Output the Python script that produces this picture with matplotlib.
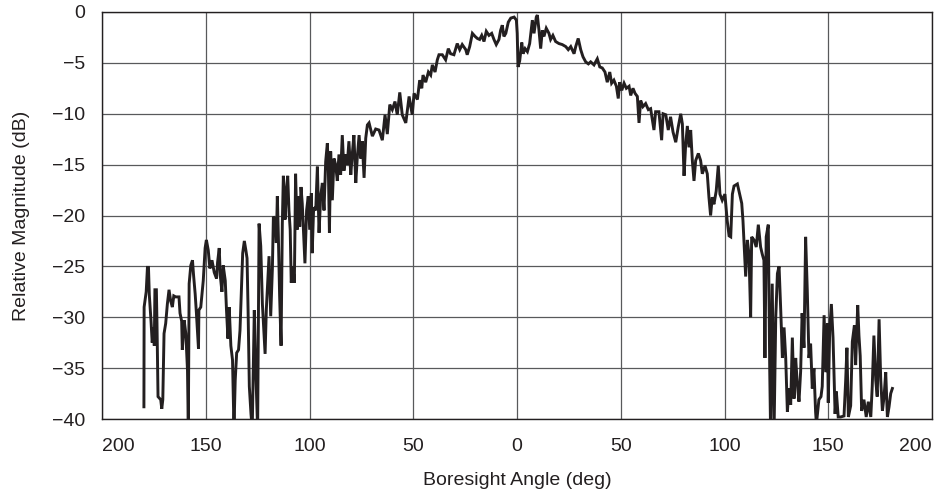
import matplotlib
matplotlib.use("Agg")
import matplotlib.pyplot as plt

plt.rcParams['font.family'] = ['Liberation Sans', 'DejaVu Sans']

# measured antenna pattern, boresight angle (deg) vs relative magnitude (dB)
angle = [
    -179.8, -179.7, -178.7, -178.1, -177.6, -177.2, -176.4, -175.8, -175.1, -174.8,
    -174.5, -173.8, -173.5, -173.0, -171.7, -171.2, -170.7, -170.1, -169.3, -168.5,
    -167.7, -166.9, -166.1, -165.4, -164.5, -162.9, -162.4, -161.6, -161.3, -160.4,
    -159.6, -158.8, -158.4, -158.0, -157.2, -156.4, -155.9, -155.1, -154.5, -153.5,
    -153.3, -152.4, -151.2, -150.3, -149.7, -148.8, -148.0, -147.0, -145.9, -144.8,
    -144.3, -143.5, -143.0, -142.2, -141.6, -140.6, -140.0, -139.3, -138.7, -137.9,
    -137.1, -136.4, -135.8, -135.1, -134.2, -133.5, -132.9, -132.2, -131.4, -130.6,
    -130.1, -129.6, -129.0, -128.2, -127.6, -126.6, -125.8, -125.0,
    -124.3, -123.5, -122.7, -121.4, -120.8, -120.3, -119.5, -118.7, -117.9, -117.4,
    -116.6, -116.0, -115.5, -115.0, -114.4, -113.7, -113.1, -112.6, -111.8, -111.0,
    -110.5, -109.9, -109.3, -108.8, -108.0, -107.3, -106.7, -106.0, -105.4, -104.7,
    -104.1, -103.5, -102.8, -102.2, -101.4, -100.6, -99.9, -99.1, -98.7, -98.0,
    -97.0, -96.2, -95.4, -94.6, -93.8, -93.0, -92.2, -91.4, -90.9, -90.4,
    -89.8, -89.0, -88.2, -87.4, -86.6, -85.8, -85.0, -84.2, -83.4, -82.6,
    -81.8, -81.0, -80.1, -79.4, -78.6, -77.7, -77.0, -76.1, -75.3, -74.6,
    -73.7, -72.9, -72.1,
    -71.3, -69.7, -68.1, -66.5, -64.9, -63.6, -62.5, -61.3, -60.1, -58.8,
    -57.7, -56.5, -55.3,
    -53.6, -52.0, -50.5, -49.6, -48.0, -46.9, -45.9, -45.3, -44.0, -42.7,
    -41.6, -40.8, -39.5, -38.4, -37.6, -36.0, -34.4, -33.1, -32.0, -30.4,
    -28.8, -27.6, -26.4, -24.7, -24.0, -22.8, -21.5, -20.2, -19.1, -18.0,
    -17.0, -15.9, -14.8, -13.5, -12.2, -11.1, -10.0, -8.7, -7.9, -7.1,
    -6.3, -5.4, -4.2, -3.0, -1.4, -0.3, 0.1, 0.5, 1.3, 2.3,
    2.9, 3.9, 5.0, 6.1,
    7.4, 8.2, 9.3, 9.8, 10.6, 11.4, 12.2, 13.0, 14.1, 15.4,
    16.2, 17.3, 18.6, 20.2, 21.8, 23.5, 24.7, 25.9, 27.5, 28.3,
    29.5, 30.7, 31.8, 33.1, 34.4, 35.5, 37.1, 38.7, 39.9, 41.1,
    42.4, 43.5, 44.7, 45.6, 46.7, 47.9, 48.8, 49.5, 50.5, 51.6,
    52.7, 54.0, 54.8, 55.9, 56.9, 58.0, 58.8, 59.6, 60.7, 62.0,
    63.3, 64.4, 66.0, 66.8,
    68.4, 69.7, 70.4, 71.7, 72.9, 74.0, 75.2, 76.5, 77.7, 78.9,
    79.7, 80.5, 81.3, 82.1, 82.9, 83.7, 84.5, 85.3, 86.1, 87.4,
    88.5, 89.3, 90.6, 91.7, 92.5, 93.3, 94.1, 94.9, 96.0, 97.0,
    97.8, 98.9, 100.2, 101.3,
    102.2, 103.0, 103.8, 104.6, 106.2, 107.3, 108.3, 108.9, 109.5, 110.2,
    111.0, 111.8, 112.6, 113.1, 114.2, 115.3, 116.3, 117.4, 118.2, 119.0,
    119.5, 120.1, 121.1, 121.8, 122.2, 123.0, 123.9, 124.7, 125.5, 126.3,
    127.1, 127.9, 128.7, 129.5, 130.3, 131.1, 131.9, 132.7, 133.5, 134.3,
    135.1, 135.9, 136.7, 137.4, 138.3, 139.1, 139.9, 140.7, 141.5, 142.3,
    143.1, 143.9,
    144.3, 145.5, 146.5, 147.1, 148.0, 148.8, 149.6, 150.0, 150.7, 151.5,
    152.3, 153.3, 153.9, 154.8, 156.0, 157.6, 158.4, 159.0, 159.7, 160.8,
    161.6, 162.6, 163.2, 164.2, 164.8, 165.4, 166.1, 167.2, 168.3, 169.3,
    170.5, 171.2, 172.0, 172.9, 173.6, 174.5, 175.3, 176.1, 176.9, 177.7,
    178.5, 179.3, 180.1, 180.9,
]
magnitude = [
    -38.8, -29.0, -27.5, -25.1, -25.1, -27.8, -30.3, -32.5, -31.0, -32.8,
    -27.3, -27.3, -30.6, -37.8, -38.1, -39.0, -38.1, -31.6, -30.6, -28.7,
    -27.3, -28.4, -29.0, -27.9, -28.0, -28.0, -29.6, -30.4, -33.2, -30.3,
    -31.6, -35.2, -41.0, -26.7, -24.9, -24.4, -25.8, -27.7, -29.6, -33.1,
    -29.3, -29.0, -26.4, -23.2, -22.4, -23.4, -25.2, -24.4, -25.6, -26.2,
    -24.6, -23.2, -25.9, -27.5, -24.9, -26.4, -29.3, -32.1, -29.0, -32.8,
    -34.2, -41.0, -36.2, -33.5, -33.2, -31.3, -27.8, -23.7, -22.5, -23.5,
    -24.2, -29.3, -36.8, -39.5, -41.0, -29.3, -35.9, -41.0,
    -20.8, -23.0, -28.7, -33.6, -29.2, -27.2, -24.0, -29.9, -25.3, -20.1,
    -20.4, -22.7, -18.1, -22.1, -27.9, -32.8, -20.8, -16.1, -20.4, -17.2,
    -16.1, -19.5, -21.4, -26.6, -25.0, -26.6, -15.9, -21.4, -18.1, -21.1,
    -17.2, -18.8, -22.1, -24.7, -19.5, -18.1, -21.4, -17.8, -23.7, -19.2,
    -19.5, -15.2, -21.7, -18.1, -16.8, -19.5, -14.7, -12.9, -15.6, -21.7,
    -13.7, -18.5, -14.4, -15.0, -16.6, -14.0, -16.0, -12.1, -15.6, -14.0,
    -15.0, -12.7, -16.0, -14.0, -12.1, -16.8, -14.4, -12.1, -14.4, -12.7,
    -16.3, -12.4, -11.1,
    -10.9, -12.2, -11.5, -11.6, -12.6, -10.1, -12.0, -9.1, -9.6, -8.8,
    -10.1, -7.9, -10.1,
    -10.9, -8.3, -10.1, -8.0, -8.6, -6.7, -7.5, -6.2, -6.9, -5.9,
    -6.2, -5.2, -5.9, -4.7, -4.2, -4.2, -4.7, -3.6, -4.1, -4.2,
    -3.1, -3.7, -3.2, -3.7, -4.2, -3.4, -2.1, -2.4, -2.6, -2.7,
    -2.3, -2.9, -1.9, -2.3, -2.1, -2.7, -3.2, -2.7, -1.8, -1.3,
    -2.4, -2.1, -1.0, -0.6, -0.5, -0.8, -2.1, -5.4, -4.8, -3.0,
    -4.1, -3.6, -3.9, -3.1,
    -0.8, -2.1, -0.5, -0.3, -1.8, -3.6, -1.8, -2.4, -1.6, -2.1,
    -2.7, -2.3, -2.9, -3.1, -3.2, -3.4, -3.7, -3.4, -4.1, -3.4,
    -2.6, -3.7, -4.4, -4.9, -5.1, -4.9, -5.2, -4.6, -5.4, -5.5,
    -5.9, -6.9, -5.9, -7.0, -6.7, -7.3, -8.5, -6.9, -7.7, -7.0,
    -7.5, -7.3, -8.2, -7.5, -8.0, -8.3, -10.9, -8.7, -9.3, -9.0,
    -9.6, -9.5, -11.6, -9.8,
    -9.8, -12.6, -10.0, -10.1, -11.6, -10.3, -11.8, -12.8, -11.3, -10.0,
    -11.0, -16.1, -13.0, -11.2, -13.3, -11.6, -14.6, -16.6, -14.6, -13.9,
    -14.6, -15.9, -15.1, -15.9, -18.2, -20.0, -18.2, -18.9, -17.6, -15.1,
    -17.9, -18.5, -17.9, -20.5,
    -22.0, -22.1, -17.9, -17.1, -16.9, -17.9, -18.8, -20.5, -23.1, -26.0,
    -22.4, -23.8, -30.0, -22.1, -22.4, -23.1, -20.9, -23.1, -23.8, -24.4,
    -34.0, -22.1, -20.9, -35.3, -41.0, -26.7, -41.0, -30.0, -25.7, -25.0,
    -29.3, -34.0, -31.0, -34.0, -39.3, -37.0, -38.6, -32.0, -38.0, -34.0,
    -36.6, -38.3, -35.3, -29.6, -33.0, -22.1, -27.4, -34.0, -32.6, -37.0,
    -35.0, -39.3,
    -40.5, -38.1, -37.8, -36.8, -29.8, -35.4, -30.6, -38.4, -31.3, -28.7,
    -32.0, -39.5, -37.3, -39.8, -39.8, -39.7, -36.2, -33.0, -39.8, -38.7,
    -32.4, -30.8, -34.7, -28.8, -31.8, -33.8, -39.2, -38.1, -39.8, -38.3,
    -39.8, -36.8, -31.8, -36.2, -37.8, -30.2, -36.2, -39.2, -37.8, -35.4,
    -39.8, -38.8, -37.5, -37.0,
]

x_ticks = [-200, -150, -100, -50, 0, 50, 100, 150, 200]
x_tick_labels = ['200', '150', '100', '50', '0', '50', '100', '150', '200']
y_ticks = [0, -5, -10, -15, -20, -25, -30, -35, -40]

fig = plt.figure(figsize=(9.4, 4.95), dpi=100)
ax = fig.add_axes([102 / 940, 1 - 419 / 495, 830 / 940, 407 / 495])

ax.plot(angle, magnitude, color='#231f20', linewidth=2.1, solid_joinstyle='miter')

ax.set_xlim(-200, 200)
ax.set_ylim(-40, 0)
ax.set_xticks(x_ticks)
ax.set_xticklabels(x_tick_labels)
ax.set_yticks(y_ticks)
ax.grid(True, color='#58595b', linewidth=0.9)
ax.set_axisbelow(True)
ax.tick_params(length=0, labelsize=14, colors='#231f20')
ax.tick_params(axis='x', pad=14)
ax.tick_params(axis='y', pad=12)
for s in ax.spines.values():
    s.set_color('#231f20')
    s.set_linewidth(1.0)

# end labels sit inside the frame
xl = ax.get_xticklabels()
xl[0].set_horizontalalignment('left')
xl[-1].set_horizontalalignment('right')

ax.set_xlabel('Boresight Angle (deg)', fontsize=14, color='#231f20', labelpad=12)
ax.set_ylabel('Relative Magnitude (dB)', fontsize=14, color='#231f20', labelpad=16)

fig.savefig('out.png', dpi=100)
